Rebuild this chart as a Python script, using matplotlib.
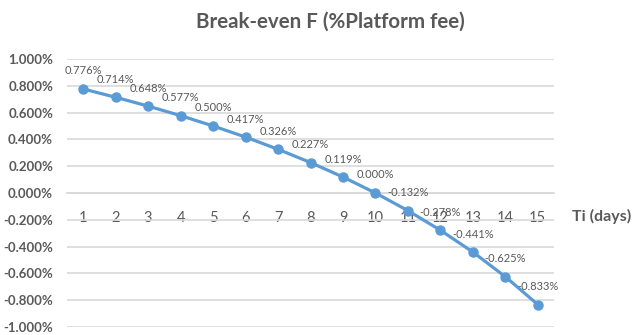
import matplotlib
matplotlib.use('Agg')
import matplotlib.pyplot as plt
from matplotlib.ticker import FuncFormatter

plt.rcParams['font.family'] = ['Lato', 'DejaVu Sans']

# break-even platform fee (%) per holding period Ti
days = [1, 2, 3, 4, 5, 6, 7, 8, 9, 10, 11, 12, 13, 14, 15]
fee_pct = [0.776, 0.714, 0.648, 0.577, 0.500, 0.417, 0.326, 0.227, 0.119,
           0.000, -0.132, -0.278, -0.441, -0.625, -0.833]
y_ticks = [1.0, 0.8, 0.6, 0.4, 0.2, 0.0, -0.2, -0.4, -0.6, -0.8, -1.0]

blue = '#5B9BD5'
grey_txt = '#595959'

fig = plt.figure(figsize=(6.35, 3.35), dpi=100)
ax = fig.add_axes([0.1055, 0.024, 0.767, 0.800])

ax.plot(days, fee_pct, color=blue, lw=2.3, marker='o', ms=6.5, zorder=3)

for d, v in zip(days, fee_pct):
    ax.annotate(f'{v:.3f}%', (d, v), xytext=(0, 9), textcoords='offset points',
                ha='center', va='bottom', fontsize=8, color=grey_txt, zorder=4)

ax.set_xlim(0.5, 15.5)
ax.set_ylim(-1.0, 1.0)
ax.set_yticks(y_ticks)
ax.yaxis.set_major_formatter(FuncFormatter(lambda v, p: f'{v:.3f}%'))
ax.grid(axis='y', color='#D9D9D9', lw=1.2)
ax.set_axisbelow(True)

for s in ['top', 'right', 'left']:
    ax.spines[s].set_visible(False)
ax.spines['bottom'].set_position(('data', 0))
ax.spines['bottom'].set_color('#D9D9D9')
ax.spines['bottom'].set_linewidth(1.2)

ax.set_xticks(days)
ax.tick_params(axis='x', length=0, pad=13, labelsize=10.5, labelcolor=grey_txt)
ax.tick_params(axis='y', length=0, pad=10, labelsize=9.5, labelcolor=grey_txt)
for lbl in ax.get_yticklabels():
    lbl.set_fontweight('bold')

fig.text(0.52, 0.935, 'Break-even F (%Platform fee)', ha='center', va='center',
         fontsize=14.8, fontweight='bold', color=grey_txt)
fig.text(0.90, 0.355, 'Ti (days)', ha='left', va='center',
         fontsize=11.5, fontweight='bold', color=grey_txt)

fig.savefig('out.png', dpi=100)
